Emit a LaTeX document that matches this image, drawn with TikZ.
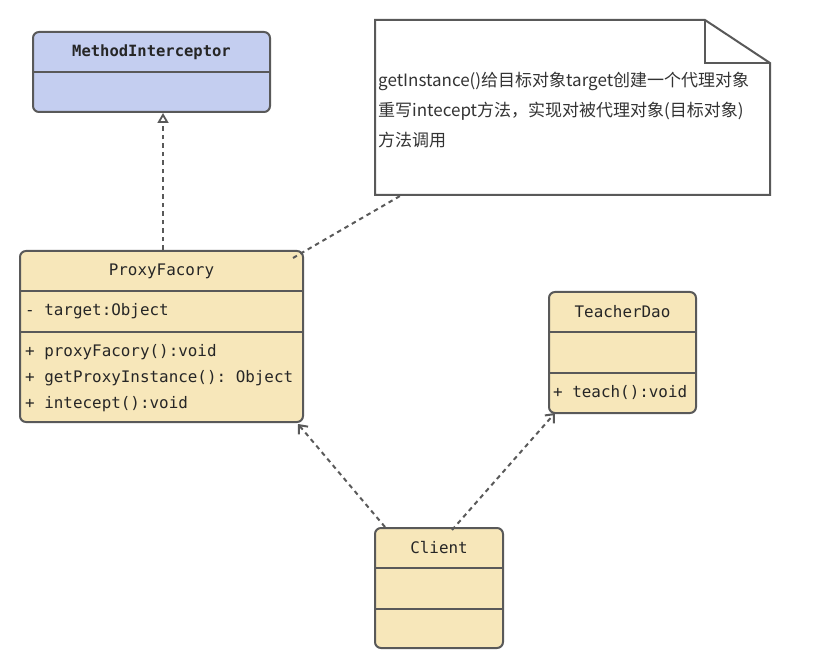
\documentclass[tikz,border=0pt]{standalone}
\usepackage{fontspec}
\usepackage{tikz}
\usetikzlibrary{arrows.meta, positioning}
\setmonofont{DejaVu Sans Mono}
\newfontfamily\cjk{Noto Sans CJK SC}
\definecolor{UML_Line}{HTML}{595959}
\definecolor{UML_Yellow}{HTML}{F7E7BA}
\definecolor{UML_Blue}{HTML}{C4CEF0}
\tikzset{
  classbox/.style={draw=UML_Line, line width=2pt, rounded corners=6pt, fill=UML_Yellow, inner sep=0pt},
  divider/.style={draw=UML_Line, line width=2pt},
  member/.style={anchor=west, inner sep=0pt, font=\ttfamily\fontsize{15.9}{18}\selectfont, text=black!85},
  title/.style={inner sep=0pt, font=\ttfamily\fontsize{15.9}{18}\selectfont, text=black!85},
  depline/.style={draw=UML_Line, line width=2pt, dash pattern=on 4.5pt off 4pt, -{Straight Barb[length=7pt, width=12pt, line width=2pt]}},
  realline/.style={draw=UML_Line, line width=2pt, dash pattern=on 4.5pt off 4pt, -{Triangle[open, length=10pt, width=11pt, line width=1.8pt]}},
  noteline/.style={draw=UML_Line, line width=2pt, dash pattern=on 4.5pt off 4pt}
}

\begin{document}
\begin{tikzpicture}[x=1pt, y=-1pt]
    \useasboundingbox (0,0) rectangle (822,668);
    % Interface
    \node[classbox, fill=UML_Blue, minimum width=237pt, minimum height=80pt] (interceptor) at (151.5,72) {};
    \draw[divider] (33,72) -- (270,72);
    \node[title, font=\ttfamily\bfseries\fontsize{15.5}{18}\selectfont] (interceptorName) at (151.5,52) {MethodInterceptor};
    % Proxy factory
    \node[classbox, minimum width=283pt, minimum height=171pt] (factory) at (161.5,336.5) {};
    \draw[divider] (20,291) -- (303,291);
    \draw[divider] (20,332) -- (303,332);
    \node[title] (factoryName) at (161.5,271) {ProxyFacory};
    \node[member] (factoryAttr) at (25,311) {- target:Object};
    \node[member] (factoryOpA) at (25,352) {+ proxyFacory():void};
    \node[member] (factoryOpB) at (25,378) {+ getProxyInstance(): Object};
    \node[member] (factoryOpC) at (25,404) {+ intecept():void};
    % Target
    \node[classbox, minimum width=147pt, minimum height=121pt] (teacher) at (622.5,352.5) {};
    \draw[divider] (549,332) -- (696,332);
    \draw[divider] (549,373) -- (696,373);
    \node[title] (teacherName) at (622.5,312) {TeacherDao};
    \node[member] (teacherOp) at (553,393) {+ teach():void};
    % Client
    \node[classbox, minimum width=128pt, minimum height=120pt] (client) at (439,588) {};
    \draw[divider] (375,568) -- (503,568);
    \draw[divider] (375,609) -- (503,609);
    \node[title] (clientName) at (439,548) {Client};
    % Note
    \node[minimum width=395pt, minimum height=175pt, inner sep=0pt] (note) at (572.5,107.5) {};
    \draw[UML_Line, line width=2pt, fill=white] (375,20) -- (705,20) -- (770,63) -- (770,195) -- (375,195) -- cycle;
    \draw[UML_Line, line width=2pt] (705,20) -- (705,63) -- (770,63);
    \node[anchor=west, align=left, inner sep=0pt, font=\cjk\fontsize{17}{30}\selectfont, text=black!80] (noteText) at (378,110)
        {getInstance()给目标对象target创建一个代理对象\\重写intecept方法，实现对被代理对象(目标对象)\\方法调用};
    % Connectors
    \coordinate (noteFoot) at (400,196);
    \coordinate (factoryCorner) at (293,258);
    \draw[noteline] (factoryCorner) -- (noteFoot);
    \draw[realline] (factory.north -| 163,0) -- (interceptor.south -| 163,0);
    \coordinate (clientLeft) at (385,527);
    \coordinate (clientRight) at (452,530);
    \coordinate (factoryFoot) at (298,424);
    \coordinate (teacherFoot) at (555,413);
    \draw[depline] (clientLeft) -- (factoryFoot);
    \draw[depline] (clientRight) -- (teacherFoot);
\end{tikzpicture}
\end{document}
